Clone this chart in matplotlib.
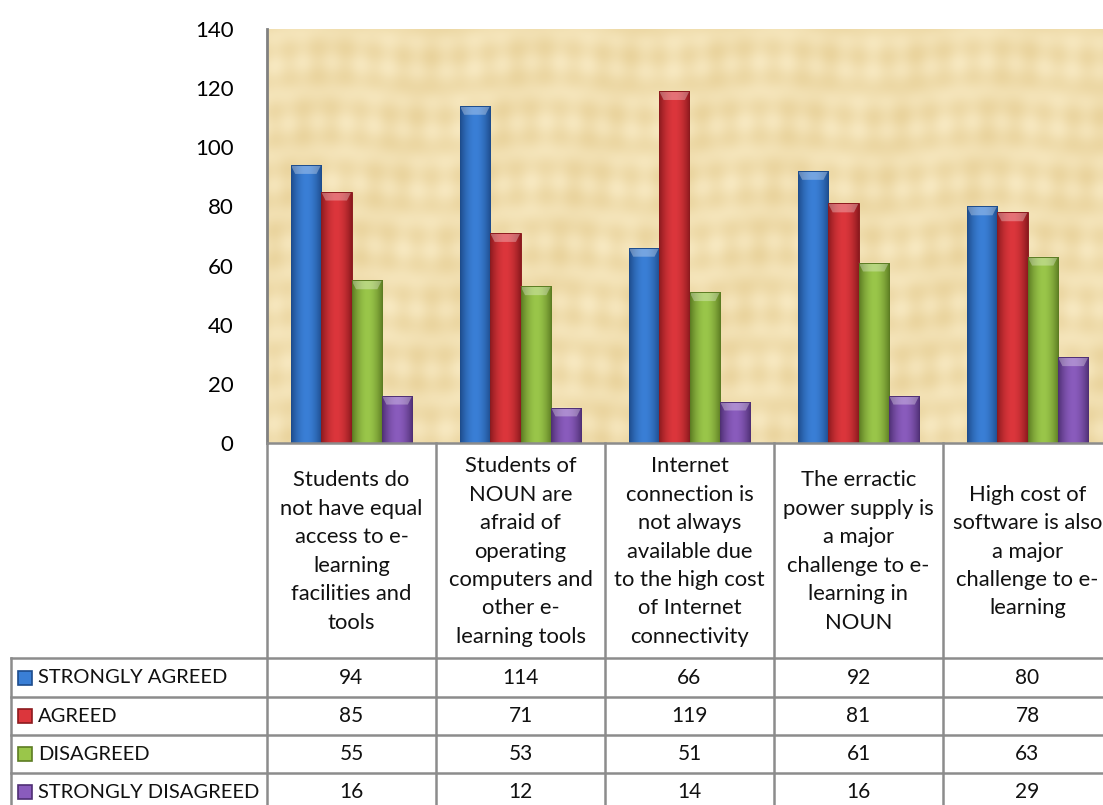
import numpy as np
import matplotlib
matplotlib.use("Agg")
import matplotlib.pyplot as plt
from matplotlib.lines import Line2D
from matplotlib.patches import Rectangle, Polygon

plt.rcParams['font.family'] = ['Lato', 'DejaVu Sans']

categories = [
    "Students do\nnot have equal\naccess to e-\nlearning\nfacilities and\ntools",
    "Students of\nNOUN are\nafraid of\noperating\ncomputers and\nother e-\nlearning tools",
    "Internet\nconnection is\nnot always\navailable due\nto the high cost\nof Internet\nconnectivity",
    "The erractic\npower supply is\na major\nchallenge to e-\nlearning in\nNOUN",
    "High cost of\nsoftware is also\na major\nchallenge to e-\nlearning",
]
series_names = ["STRONGLY AGREED", "AGREED", "DISAGREED", "STRONGLY DISAGREED"]
strongly_agreed = [94, 114, 66, 92, 80]
agreed = [85, 71, 119, 81, 78]
disagreed = [55, 53, 51, 61, 63]
strongly_disagreed = [16, 12, 14, 16, 29]
values = [strongly_agreed, agreed, disagreed, strongly_disagreed]
yticks = [0, 20, 40, 60, 80, 100, 120, 140]

# (mid colour, edge colour)
colors = [("#3a7fd6", "#1d4c8c"), ("#dc363c", "#8c1a1e"),
          ("#9ac64a", "#5c7c22"), ("#8a5cbd", "#4f2f74")]

W, H = 1103, 805
fig = plt.figure(figsize=(W / 100, H / 100), dpi=100)
fig.patch.set_facecolor("white")

# pixel layout
x0, x1 = 267, 1112
ytop, ybot = 29, 443
ax = fig.add_axes([x0 / W, 1 - ybot / H, (x1 - x0) / W, (ybot - ytop) / H])
ax.set_xlim(-0.5, 4.5)
ax.set_ylim(0, 140)

# papyrus-like background
gx = np.linspace(0, 60, 600)
gy = np.linspace(0, 30, 300)
XX, YY = np.meshgrid(gx, gy)
tex = (0.5 + 0.15 * np.sin(XX * 3.1) * np.sin(YY * 0.7)
       + 0.15 * np.sin(YY * 2.9 + np.sin(XX * 0.4)) + 0.1 * np.sin(XX * 0.9 + YY * 0.3))
base = np.array([0.91, 0.82, 0.60])
light = np.array([0.975, 0.92, 0.77])
img = base[None, None, :] * (1 - tex[..., None]) + light[None, None, :] * tex[..., None]
ax.imshow(np.clip(img, 0, 1), extent=(-0.5, 4.5, 0, 140), aspect='auto', zorder=0)

bw = 0.18
xs = np.arange(len(categories))
grad = np.abs(np.linspace(-1, 1, 64))[None, :] ** 1.8
for i, vals in enumerate(values):
    mid, edge = colors[i]
    cm = matplotlib.colors.LinearSegmentedColormap.from_list("c%d" % i, [mid, edge])
    pos = xs + (i - 1.5) * bw
    bars = ax.bar(pos, vals, width=bw, color=mid, edgecolor="none", zorder=2)
    for b in bars:
        bx, by, bwid, bh = b.get_x(), b.get_y(), b.get_width(), b.get_height()
        im = ax.imshow(grad, cmap=cm, extent=(bx, bx + bwid, by, by + bh),
                       aspect='auto', zorder=3, vmin=0, vmax=1)
        im.set_clip_path(b)
        # bevelled top
        d = 3.0
        top = Polygon([(bx, by + bh), (bx + bwid, by + bh),
                       (bx + bwid * 0.85, by + bh - d), (bx + bwid * 0.15, by + bh - d)],
                      closed=True, facecolor="white", alpha=0.3, edgecolor="none", zorder=4)
        ax.add_patch(top)
        ax.add_patch(Rectangle((bx, by), bwid, bh, fill=False, edgecolor=edge,
                               linewidth=0.7, zorder=5))

ax.set_xticks([])
ax.set_yticks(yticks)
ax.set_yticklabels([str(t) for t in yticks], fontsize=16)
ax.tick_params(axis='y', length=0, pad=24)
for s in ["top", "right", "bottom"]:
    ax.spines[s].set_visible(False)
ax.spines["left"].set_color("#808080")
ax.spines["left"].set_linewidth(2)

# data table below the chart
gray = "#8c8c8c"
col_w = (x1 - x0) / len(categories)
row_lines = [658, 697, 735, 773, 811]
left = 11


def fx(px):
    return px / W


def fy(py):
    return 1 - py / H


fig.add_artist(Line2D([fx(x0), fx(x1)], [fy(ybot), fy(ybot)], color=gray, lw=1.8))
for k in range(len(categories) + 1):
    xv = x0 + k * col_w
    fig.add_artist(Line2D([fx(xv), fx(xv)], [fy(ybot), fy(820)], color=gray, lw=1.8))
fig.add_artist(Line2D([fx(left), fx(left)], [fy(row_lines[0]), fy(820)], color=gray, lw=1.8))
for yl in row_lines:
    fig.add_artist(Line2D([fx(left), fx(x1)], [fy(yl), fy(yl)], color=gray, lw=1.8))

for k, cat in enumerate(categories):
    cx = x0 + (k + 0.5) * col_w
    fig.text(fx(cx), fy((ybot + row_lines[0]) / 2 + 1), cat, ha="center", va="center",
             fontsize=15.8, linespacing=1.53, color="#111111")

for r, name in enumerate(series_names):
    yc = (row_lines[r] + row_lines[r + 1]) / 2
    mid, edge = colors[r]
    sq = Rectangle((fx(18), fy(yc + 7)), 14 / W, 14 / H, transform=fig.transFigure,
                   facecolor=mid, edgecolor=edge, linewidth=1.2)
    fig.add_artist(sq)
    fig.text(fx(38), fy(yc), name, ha="left", va="center", fontsize=14.5, color="#111111")
    for k in range(len(categories)):
        cx = x0 + (k + 0.5) * col_w
        fig.text(fx(cx), fy(yc), str(values[r][k]), ha="center", va="center",
                 fontsize=15, color="#111111")

fig.savefig("out.png", dpi=100)
